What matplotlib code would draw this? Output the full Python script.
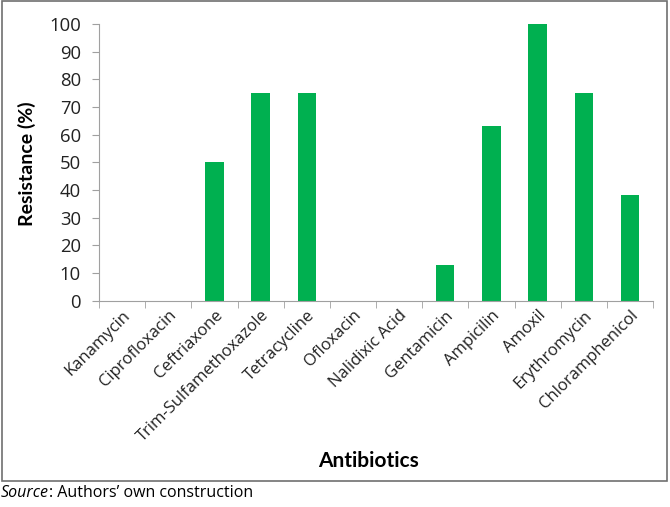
import matplotlib.pyplot as plt
from matplotlib.patches import Rectangle
import numpy as np

antibiotics = ["Kanamycin", "Ciprofloxacin", "Ceftriaxone", "Trim-Sulfamethoxazole",
               "Tetracycline", "Ofloxacin", "Nalidixic Acid", "Gentamicin", "Ampicilin",
               "Amoxil", "Erythromycin", "Chloramphenicol"]
resistance = [0, 0, 50, 75, 75, 0, 0, 13, 63, 100, 75, 38]
yticks = list(range(0, 101, 10))

W, H = 670, 507
fig = plt.figure(figsize=(W / 100, H / 100), dpi=100)
ax = fig.add_axes([99 / W, 1 - 300.5 / H, (653 - 99) / W, (300.5 - 24) / H])

x = np.arange(len(antibiotics))
ax.bar(x, resistance, width=0.4, color="#00B050")
ax.set_xlim(-0.5, len(antibiotics) - 0.5)
ax.set_ylim(0, 100)
ax.set_yticks(yticks)
ax.set_xticks(x)
ax.set_xticklabels(antibiotics, rotation=45, ha="right", rotation_mode="anchor",
                   family="Open Sans", fontsize=12, color="#222222")
ax.set_xticks(np.arange(-0.5, len(antibiotics)), minor=True)
ax.tick_params(axis="x", which="major", length=0, pad=5)
ax.tick_params(axis="x", which="minor", length=5, color="#a0a0a0", direction="out")
ax.tick_params(axis="y", length=5, color="#a0a0a0", labelsize=13.3, labelcolor="#222222",
               pad=8)
for lab in ax.get_yticklabels():
    lab.set_family("Open Sans")

for s in ["top", "right"]:
    ax.spines[s].set_visible(False)
for s in ["left", "bottom"]:
    ax.spines[s].set_color("#a0a0a0")

ax.set_ylabel("Resistance (%)", family="Lato", fontweight="bold", fontsize=14)
ax.yaxis.set_label_coords((36 - 99) / 554, 0.495)
fig.text(368 / W, 1 - 461 / H, "Antibiotics", family="Lato", fontweight="bold",
         fontsize=15, ha="center", va="center")

fig.patches.append(Rectangle((2 / W, 1 - 481 / H), 665 / W, 480 / H,
                             transform=fig.transFigure, fill=False,
                             edgecolor="#707070", linewidth=1.2))

t = fig.text(1 / W, 1 - 493 / H, "Source", family="Open Sans", style="italic",
             fontsize=11.5, va="center", ha="left")
fig.canvas.draw()
bb = t.get_window_extent()
fig.text(bb.x1 / W, 1 - 493 / H, ": Authors\u2019 own construction", family="Open Sans",
         fontsize=11.5, va="center", ha="left")

fig.savefig("out.png", dpi=100)
